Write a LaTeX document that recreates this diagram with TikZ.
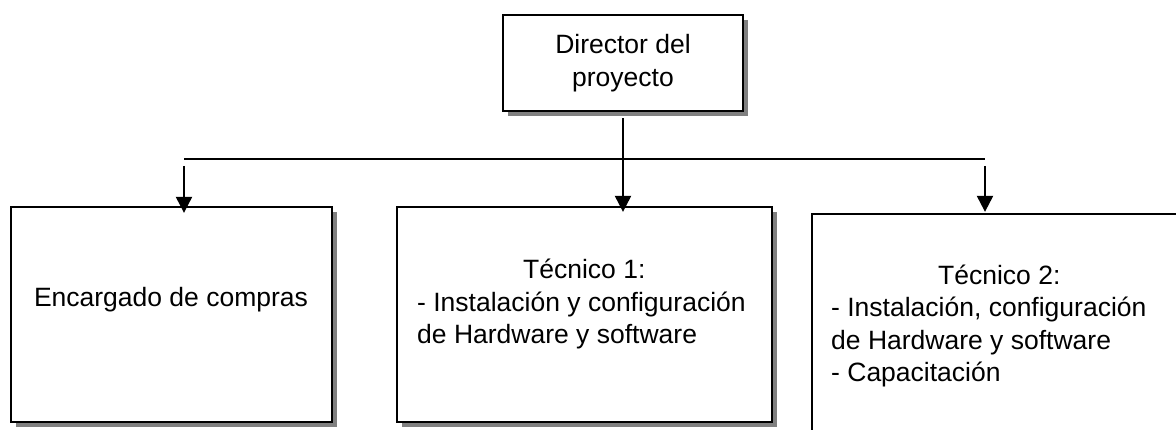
\documentclass[tikz,border=0pt]{standalone}
\usepackage{fontspec}
\setmainfont{Liberation Sans}
\usetikzlibrary{arrows.meta,shadows}
\begin{document}
\begin{tikzpicture}[x=1pt,y=-1pt,
  box/.style={draw=black, line width=2.3pt, fill=white, rectangle, inner sep=0pt,
     drop shadow={shadow xshift=5pt, shadow yshift=-5pt, fill=black!50, opacity=1}},
  txt/.style={inner sep=0pt, font=\fontsize{26.5}{32.5}\selectfont},
  conn/.style={line width=2.2pt},
  arr/.style={line width=2.2pt, -{Triangle[width=16pt,length=16pt]}}]
\clip (0,0) rectangle (1176,430);
\fill[white] (0,0) rectangle (1176,430);
% boxes
\node[box, minimum width=240pt, minimum height=96pt, txt, align=center] (dir) at (623,63) {Director del\\proyecto};
\node[box, minimum width=321pt, minimum height=215pt] (buy) at (171.5,314.5) {};
\node[box, minimum width=375pt, minimum height=215pt] (t1) at (584.5,314.5) {};
\node[box, minimum width=373pt, minimum height=230pt] (t2) at (998.5,329) {};
% connectors
\coordinate (hl) at (184,159);
\coordinate (hr) at (985,159);
\coordinate (a1) at (184,166);
\coordinate (a3) at (985,166);
\draw[conn] (hl) -- (hr);
\draw[arr, shorten <=6pt, shorten >=-6pt] (dir.south) -- (dir.south |- t1.north);
\draw[arr, shorten >=-7pt] (a1) -- (a1 |- buy.north);
\draw[arr, shorten >=1pt] (a3) -- (a3 |- t2.north);
% texts
\node[txt] (buyt) at (171,300) {Encargado de compras};
\node[txt, align=left, anchor=west] (t1t) at (417,304) {\hspace*{106pt}Técnico 1:\\- Instalación y configuración\\de Hardware y software};
\node[txt, align=left, anchor=west] (t2t) at (831,326) {\hspace*{107pt}Técnico 2:\\- Instalación, configuración\\de Hardware y software\\- Capacitación};
\end{tikzpicture}
\end{document}
